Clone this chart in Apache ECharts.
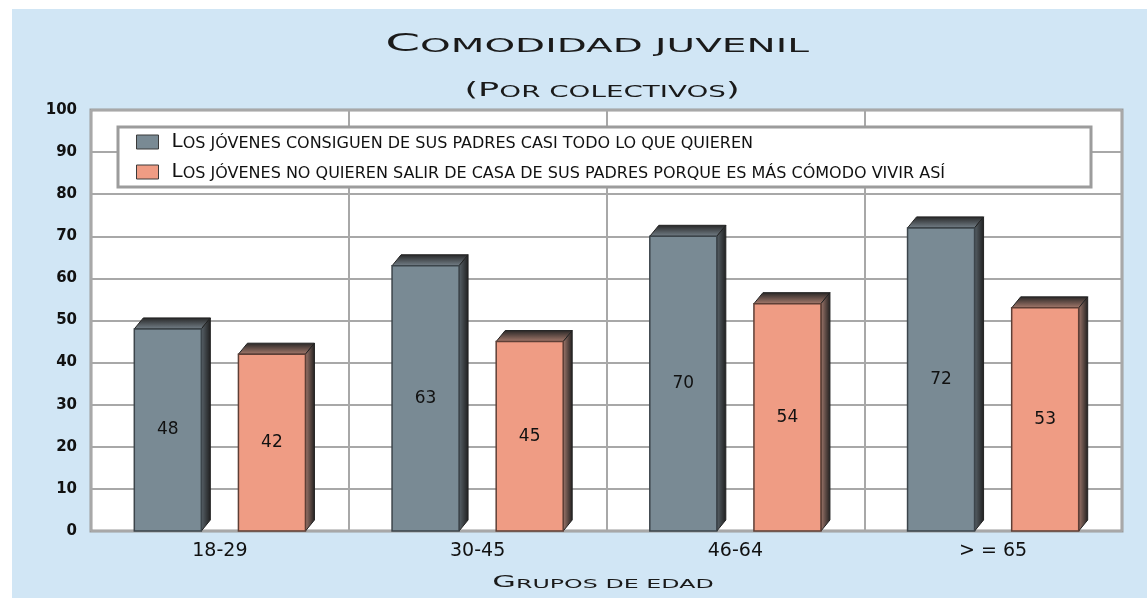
<!DOCTYPE html>
<html>
<head>
<meta charset="utf-8">
<title>Comodidad juvenil</title>
<script src="https://cdn.jsdelivr.net/npm/echarts@6/dist/echarts.min.js"></script>
<style>
html, body { margin: 0; padding: 0; background: #fff; }
#chart { position: absolute; left: 12px; top: 9px; width: 1135px; height: 589px; }
</style>
</head>
<body>
<div id="chart"></div>
<script>
const categories = ['18-29', '30-45', '46-64', '> = 65'];
const consiguen = [48, 63, 70, 72];
const noQuieren = [42, 45, 54, 53];
const seriesNames = [
  'Los jóvenes consiguen de sus padres casi todo lo que quieren',
  'Los jóvenes no quieren salir de casa de sus padres porque es más cómodo vivir así'
];
const titleText = 'Comodidad juvenil';
const subtitleText = '(Por colectivos)';
const axisNameText = 'Grupos de edad';

const FONT = 'DejaVu Sans';
const BAR_FRAC = 0.26;     // bar width / category width
const OFFSET_FRAC = 0.202; // bar centre offset / category width
const DEPTH_X = 9;
const DEPTH_Y = 11;

// copperplate-like small caps: capitals big, the rest upper case and smaller
function smallCaps(text) {
  let out = '', run = '', big = null;
  for (const ch of text) {
    const isBig = ch !== ch.toLowerCase() || ch === '(' || ch === ')';
    if (big !== null && isBig !== big) {
      out += '{' + (big ? 'a' : 'b') + '|' + run + '}';
      run = '';
    }
    big = isBig;
    run += ch.toUpperCase();
  }
  return out + '{' + (big ? 'a' : 'b') + '|' + run + '}';
}

function capsRich(big, small) {
  return {
    a: { fontSize: big, fontFamily: FONT, fill: '#1a1a1a', color: '#1a1a1a', verticalAlign: 'bottom' },
    b: { fontSize: small, fontFamily: FONT, fill: '#1a1a1a', color: '#1a1a1a', verticalAlign: 'bottom' }
  };
}

function stretchedText(text, x, y, big, small, stretch) {
  return {
    type: 'text',
    x: x,
    y: y,
    scaleX: stretch,
    silent: true,
    style: {
      text: smallCaps(text),
      align: 'center',
      verticalAlign: 'bottom',
      rich: capsRich(big, small)
    }
  };
}

function make3dBar(side, fill, stroke, topFront, sideFront) {
  return function (params, api) {
    const cat = api.value(0);
    const val = api.value(1);
    const catW = api.size([1, 0])[0];
    const w = catW * BAR_FRAC;
    const base = api.coord([cat, 0]);
    const top = api.coord([cat, val]);
    const cx = base[0] + side * catW * OFFSET_FRAC;
    const x0 = cx - w / 2, x1 = cx + w / 2;
    const yT = top[1], yB = base[1];
    return {
      type: 'group',
      children: [
        {
          type: 'polygon',
          shape: { points: [[x0, yT], [x1, yT], [x1 + DEPTH_X, yT - DEPTH_Y], [x0 + DEPTH_X, yT - DEPTH_Y]] },
          style: {
            fill: new echarts.graphic.LinearGradient(0, 0, 0, 1, [
              { offset: 0, color: '#252525' },
              { offset: 1, color: topFront }
            ]),
            stroke: '#222',
            lineWidth: 1
          }
        },
        {
          type: 'polygon',
          shape: { points: [[x1, yT], [x1 + DEPTH_X, yT - DEPTH_Y], [x1 + DEPTH_X, yB - DEPTH_Y], [x1, yB]] },
          style: {
            fill: new echarts.graphic.LinearGradient(0, 0, 1, 0, [
              { offset: 0, color: sideFront },
              { offset: 1, color: '#1e1e1e' }
            ]),
            stroke: '#222',
            lineWidth: 1
          }
        },
        {
          type: 'rect',
          shape: { x: x0, y: yT, width: w, height: yB - yT },
          style: { fill: fill, stroke: stroke, lineWidth: 1.5 },
          textContent: {
            style: { text: String(val), fontSize: 17, fontFamily: FONT, fill: '#111' }
          },
          textConfig: { position: 'inside' }
        }
      ]
    };
  };
}

const myChart = echarts.init(document.getElementById('chart'));

const option = {
  backgroundColor: '#d1e6f5',
  animation: false,
  graphic: [
    stretchedText(titleText, 585, 48, 25, 19.5, 2.0),
    stretchedText(subtitleText, 590, 92, 19, 15, 1.85),
    stretchedText(axisNameText, 591, 582, 16, 12.5, 1.9)
  ],
  legend: {
    orient: 'vertical',
    left: 106,
    top: 118,
    data: seriesNames,
    icon: 'rect',
    itemWidth: 22,
    itemHeight: 14,
    itemGap: 10,
    backgroundColor: '#fff',
    borderColor: '#9c9c9c',
    borderWidth: 3,
    borderRadius: 0,
    padding: [5, 146, 5, 18],
    itemStyle: { borderColor: '#3a3a3a', borderWidth: 1 },
    formatter: function (name) {
      return smallCaps(name);
    },
    textStyle: {
      padding: [0, 0, 0, 8],
      rich: {
        a: { fontSize: 20, fontFamily: FONT, color: '#111', verticalAlign: 'bottom' },
        b: { fontSize: 16, fontFamily: FONT, color: '#111', verticalAlign: 'bottom' }
      }
    }
  },
  grid: {
    left: 79,
    right: 25,
    top: 101,
    bottom: 67,
    show: true,
    backgroundColor: '#fff',
    borderColor: '#9c9c9c',
    borderWidth: 3
  },
  xAxis: {
    type: 'category',
    data: categories,
    axisLine: { show: false },
    axisTick: { show: false },
    axisLabel: { fontSize: 19, fontFamily: FONT, color: '#111', margin: 11 },
    splitLine: { show: true, interval: 0, lineStyle: { color: '#a8a8a8', width: 2 } }
  },
  yAxis: {
    type: 'value',
    min: 0,
    max: 100,
    interval: 10,
    axisLine: { show: false },
    axisTick: { show: false },
    axisLabel: { fontSize: 15, fontFamily: FONT, fontWeight: 'bold', color: '#111', margin: 14 },
    splitLine: { show: true, lineStyle: { color: '#a8a8a8', width: 2 } }
  },
  series: [
    {
      name: seriesNames[0],
      type: 'custom',
      renderItem: make3dBar(-1, '#798a94', '#3c454b', '#76828b', '#5a646b'),
      itemStyle: { color: '#798a94' },
      encode: { x: 0, y: 1 },
      clip: false,
      data: consiguen.map(function (v, i) { return [i, v]; })
    },
    {
      name: seriesNames[1],
      type: 'custom',
      renderItem: make3dBar(1, '#ef9c84', '#5e3f36', '#a97c6e', '#a27a6e'),
      itemStyle: { color: '#ef9c84' },
      encode: { x: 0, y: 1 },
      clip: false,
      data: noQuieren.map(function (v, i) { return [i, v]; })
    }
  ]
};

myChart.setOption(option);
window.addEventListener('resize', function () {
  myChart.resize();
});
</script>
</body>
</html>
